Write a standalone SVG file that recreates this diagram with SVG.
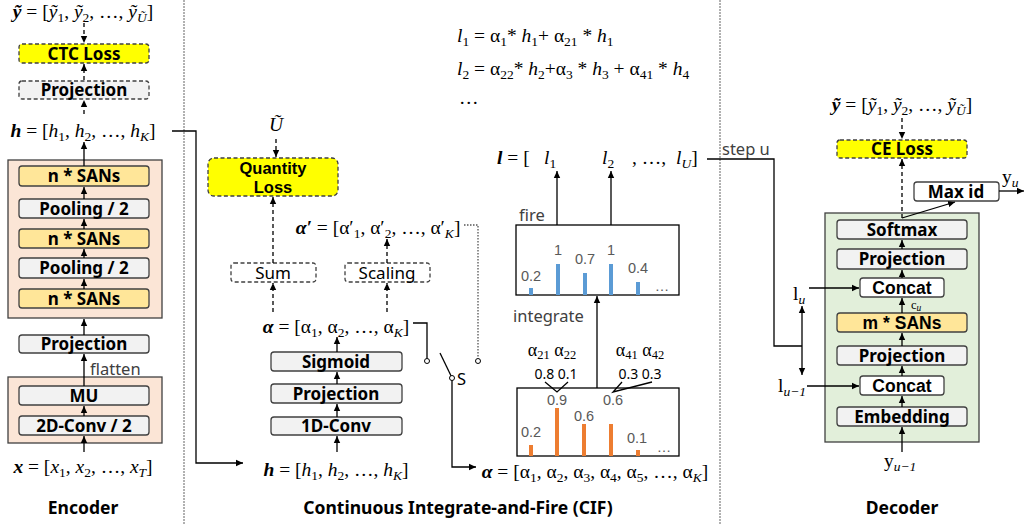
<svg xmlns="http://www.w3.org/2000/svg" width="1025" height="525" viewBox="0 0 1025 525">
<style>
.m{font-family:"Liberation Serif",serif;font-size:19.5px;fill:#000}
.i{font-style:italic}
.b{font-weight:bold;font-style:italic}
.sb{font-size:13.5px}
.lbl{font-family:"Noto Sans","Liberation Sans",sans-serif;font-weight:bold;font-size:17px;fill:#000;text-anchor:middle}
.lbq{font-family:"Liberation Sans",Arial,sans-serif;font-weight:bold;font-size:16.5px;fill:#000;text-anchor:middle}
.lbz{font-family:"Liberation Sans",Arial,sans-serif;font-weight:bold;font-size:17.5px;fill:#000;text-anchor:middle}
.lbr{font-family:"Noto Sans","Liberation Sans",sans-serif;font-size:17px;fill:#000;text-anchor:middle}
.note{font-family:"Noto Sans","Liberation Sans",sans-serif;font-size:16.5px;fill:#404040}
.val{font-family:"Liberation Sans",Arial,sans-serif;font-size:14.5px;fill:#595959;text-anchor:middle}
.title{font-family:"Noto Sans","Liberation Sans",sans-serif;font-weight:bold;font-size:17.5px;fill:#000;text-anchor:middle}
.gray{fill:#f2f2f2;stroke:#404040;stroke-width:1.3}
.white{fill:#fff;stroke:#404040;stroke-width:1.3}
.san{fill:#ffe699;stroke:#404040;stroke-width:1.3}
.loss{fill:#ffff00;stroke:#404040;stroke-width:1.3;stroke-dasharray:4 2.5}
.dbox{fill:#f2f2f2;stroke:#404040;stroke-width:1.3;stroke-dasharray:4 2.5}
.dboxw{fill:#fff;stroke:#404040;stroke-width:1.3;stroke-dasharray:4 2.5}
.cont-e{fill:#fbe5d6;stroke:#404040;stroke-width:1.3}
.cont-d{fill:#e2efda;stroke:#404040;stroke-width:1.3}
.c{fill:none;stroke:#000;stroke-width:1.3}
.cd{fill:none;stroke:#000;stroke-width:1.3;stroke-dasharray:4 3}
.cdot{fill:none;stroke:#555;stroke-width:1.3;stroke-dasharray:1.5 1.5}
.sep{fill:none;stroke:#888;stroke-width:1.3;stroke-dasharray:2 1}
.blue{fill:#5b9bd5}
.orange{fill:#ed7d31}
</style>
<defs>
<marker id="ah" markerWidth="8" markerHeight="8" refX="7" refY="4" orient="auto" markerUnits="userSpaceOnUse">
<path d="M0,0.8 L7,4 L0,7.2 Z" fill="#000"/>
</marker>
<marker id="ahs" markerWidth="8" markerHeight="8" refX="7" refY="4" orient="auto-start-reverse" markerUnits="userSpaceOnUse">
<path d="M0,0.8 L7,4 L0,7.2 Z" fill="#000"/>
</marker>
</defs>

<!-- separators -->
<path class="sep" d="M184 0 V525 M720 0 V525"/>

<!-- Encoder -->
<g id="encoder-containers">
<rect class="cont-e" x="8" y="160" width="154" height="158"/>
<rect class="cont-e" x="8" y="377" width="154" height="66"/>
</g>
<g id="enc-ytilde"><text class="m" x="83" y="18" text-anchor="middle"><tspan class="b">ỹ</tspan> = [<tspan class="i">ỹ</tspan><tspan class="sb" dy="4">1</tspan><tspan dy="-4">, </tspan><tspan class="i">ỹ</tspan><tspan class="sb" dy="4">2</tspan><tspan dy="-4">, …, </tspan><tspan class="i">ỹ</tspan><tspan class="sb i" dy="4">Ũ</tspan><tspan dy="-4">]</tspan></text></g>
<g id="ctc-loss"><rect class="loss" x="19" y="44" width="130" height="19" rx="3"/><text class="lbl" x="84" y="59.5">CTC Loss</text></g>
<g id="enc-proj-top"><rect class="dbox" x="19" y="81" width="130" height="18" rx="3"/><text class="lbl" x="84" y="96">Projection</text></g>
<g id="enc-h"><text class="m" x="83" y="137" text-anchor="middle"><tspan class="b">h</tspan> = [<tspan class="i">h</tspan><tspan class="sb" dy="4">1</tspan><tspan dy="-4">, </tspan><tspan class="i">h</tspan><tspan class="sb" dy="4">2</tspan><tspan dy="-4">, …, </tspan><tspan class="i">h</tspan><tspan class="sb i" dy="4">K</tspan><tspan dy="-4">]</tspan></text></g>
<g id="sans1"><rect class="san" x="19" y="166" width="130" height="20" rx="3"/><text class="lbl" x="84" y="182">n * SANs</text></g>
<g id="pool1"><rect class="gray" x="19" y="199" width="130" height="19" rx="3"/><text class="lbl" x="84" y="214.5">Pooling / 2</text></g>
<g id="sans2"><rect class="san" x="19" y="229" width="130" height="19" rx="3"/><text class="lbl" x="84" y="244.5">n * SANs</text></g>
<g id="pool2"><rect class="gray" x="19" y="258" width="130" height="20" rx="3"/><text class="lbl" x="84" y="274">Pooling / 2</text></g>
<g id="sans3"><rect class="san" x="19" y="289" width="130" height="19" rx="3"/><text class="lbl" x="84" y="304.5">n * SANs</text></g>
<g id="enc-proj"><rect class="gray" x="19" y="335" width="130" height="18" rx="3"/><text class="lbl" x="84" y="350">Projection</text></g>
<g id="mu"><rect class="gray" x="19" y="386" width="130" height="19" rx="3"/><text class="lbl" x="84" y="401.5">MU</text></g>
<g id="conv2d"><rect class="gray" x="19" y="416" width="130" height="19" rx="3"/><text class="lbl" x="84" y="431.5">2D-Conv / 2</text></g>
<g id="enc-x"><text class="m" x="83" y="473" text-anchor="middle"><tspan class="b">x</tspan> = [<tspan class="i">x</tspan><tspan class="sb" dy="4">1</tspan><tspan dy="-4">, </tspan><tspan class="i">x</tspan><tspan class="sb" dy="4">2</tspan><tspan dy="-4">, …, </tspan><tspan class="i">x</tspan><tspan class="sb i" dy="4">T</tspan><tspan dy="-4">]</tspan></text></g>
<g id="enc-title"><text class="title" x="83" y="514">Encoder</text></g>
<text class="note" x="90" y="375">flatten</text>

<!-- CIF left -->
<g id="utilde"><text class="m i" x="276" y="131" text-anchor="middle">Ũ</text></g>
<g id="quantity-loss"><rect class="loss" x="208" y="158" width="130" height="38" rx="6"/><text class="lbq" x="273" y="174">Quantity</text><text class="lbq" x="273" y="192.5">Loss</text></g>
<g id="alpha-prime"><text class="m" x="378" y="234" text-anchor="middle"><tspan class="b">α′</tspan> = [α′<tspan class="sb" dy="4">1</tspan><tspan dy="-4">, α′</tspan><tspan class="sb" dy="4">2</tspan><tspan dy="-4">, …, α′</tspan><tspan class="sb i" dy="4">K</tspan><tspan dy="-4">]</tspan></text></g>
<g id="sum"><rect class="dboxw" x="231" y="263" width="85" height="19" rx="3"/><text class="lbr" x="273" y="278.5">Sum</text></g>
<g id="scaling"><rect class="dboxw" x="345" y="263" width="85" height="19" rx="3"/><text class="lbr" x="387" y="278.5">Scaling</text></g>
<g id="alpha-cif"><text class="m" x="336" y="333" text-anchor="middle"><tspan class="b">α</tspan> = [α<tspan class="sb" dy="4">1</tspan><tspan dy="-4">, α</tspan><tspan class="sb" dy="4">2</tspan><tspan dy="-4">, …, α</tspan><tspan class="sb i" dy="4">K</tspan><tspan dy="-4">]</tspan></text></g>
<g id="sigmoid"><rect class="gray" x="271" y="352" width="131" height="19" rx="3"/><text class="lbl" x="336" y="367.5">Sigmoid</text></g>
<g id="cif-proj"><rect class="gray" x="271" y="384" width="131" height="19" rx="3"/><text class="lbl" x="336" y="399.5">Projection</text></g>
<g id="conv1d"><rect class="gray" x="271" y="417" width="131" height="18" rx="3"/><text class="lbl" x="336" y="432">1D-Conv</text></g>
<g id="cif-h"><text class="m" x="336" y="476" text-anchor="middle"><tspan class="b">h</tspan> = [<tspan class="i">h</tspan><tspan class="sb" dy="4">1</tspan><tspan dy="-4">, </tspan><tspan class="i">h</tspan><tspan class="sb" dy="4">2</tspan><tspan dy="-4">, …, </tspan><tspan class="i">h</tspan><tspan class="sb i" dy="4">K</tspan><tspan dy="-4">]</tspan></text></g>
<g id="switch">
<circle cx="427" cy="361" r="2.5" fill="#fff" stroke="#000" stroke-width="1"/>
<circle cx="452" cy="378" r="2.5" fill="#fff" stroke="#000" stroke-width="1"/>
<circle cx="478" cy="361" r="2.5" fill="#fff" stroke="#000" stroke-width="1"/>
<text class="note" x="457" y="385" style="fill:#000">S</text>
</g>
<g id="cif-title"><text class="title" x="458" y="514">Continuous Integrate-and-Fire (CIF)</text></g>

<!-- CIF right -->
<g id="eq-l1"><text class="m" x="457" y="42"><tspan class="i">l</tspan><tspan class="sb" dy="4">1</tspan><tspan dy="-4"> = α</tspan><tspan class="sb" dy="4">1</tspan><tspan dy="-4">* </tspan><tspan class="i">h</tspan><tspan class="sb" dy="4">1</tspan><tspan dy="-4">+ α</tspan><tspan class="sb" dy="4">21</tspan><tspan dy="-4"> * </tspan><tspan class="i">h</tspan><tspan class="sb" dy="4">1</tspan></text></g>
<g id="eq-l2"><text class="m" x="457" y="75"><tspan class="i">l</tspan><tspan class="sb" dy="4">2</tspan><tspan dy="-4"> = α</tspan><tspan class="sb" dy="4">22</tspan><tspan dy="-4">* </tspan><tspan class="i">h</tspan><tspan class="sb" dy="4">2</tspan><tspan dy="-4">+α</tspan><tspan class="sb" dy="4">3</tspan><tspan dy="-4"> * </tspan><tspan class="i">h</tspan><tspan class="sb" dy="4">3</tspan><tspan dy="-4"> + α</tspan><tspan class="sb" dy="4">41</tspan><tspan dy="-4"> * </tspan><tspan class="i">h</tspan><tspan class="sb" dy="4">4</tspan></text></g>
<g id="eq-dots"><text class="m" x="459" y="104">…</text></g>
<g id="l-vec">
<text class="m" x="497" y="164"><tspan class="b">l</tspan> = [</text>
<text class="m" x="544" y="164"><tspan class="i">l</tspan><tspan class="sb" dy="4">1</tspan></text>
<text class="m" x="602" y="164"><tspan class="i">l</tspan><tspan class="sb" dy="4">2</tspan></text>
<text class="m" x="632" y="164">, …,</text>
<text class="m" x="676" y="164"><tspan class="i">l</tspan><tspan class="sb i" dy="4">U</tspan><tspan dy="-4">]</tspan></text>
</g>
<g id="fire-box">
<rect x="516" y="225" width="163" height="70" fill="#fff" stroke="#000" stroke-width="1.3"/>
<rect class="blue" x="529" y="288" width="4" height="7"/>
<rect class="blue" x="556" y="264" width="4" height="31"/>
<rect class="blue" x="583" y="273" width="4" height="22"/>
<rect class="blue" x="609" y="264" width="4" height="31"/>
<rect class="blue" x="636" y="282" width="4" height="13"/>
<text class="val" x="531" y="281">0.2</text>
<text class="val" x="558" y="255">1</text>
<text class="val" x="585" y="264">0.7</text>
<text class="val" x="611" y="255">1</text>
<text class="val" x="638" y="273">0.4</text>
<text class="val" x="662" y="291">…</text>
</g>
<text class="note" x="519" y="221">fire</text>
<text class="note" x="513" y="322">integrate</text>
<g id="alpha-labels">
<text class="m" x="552" y="356" text-anchor="middle" style="font-size:18px">α<tspan class="sb" dy="3" style="font-size:12.5px">21</tspan><tspan dy="-3"> α</tspan><tspan class="sb" dy="3" style="font-size:12.5px">22</tspan></text>
<text class="m" x="640" y="356" text-anchor="middle" style="font-size:18px">α<tspan class="sb" dy="3" style="font-size:12.5px">41</tspan><tspan dy="-3"> α</tspan><tspan class="sb" dy="3" style="font-size:12.5px">42</tspan></text>
<text class="lbr" x="556" y="379" style="font-size:14px">0.8 0.1</text>
<text class="lbr" x="640" y="379" style="font-size:14px">0.3 0.3</text>
</g>
<g id="integrate-box">
<rect x="517" y="388" width="162" height="68" fill="#fff" stroke="#000" stroke-width="1.3"/>
<rect class="orange" x="529" y="445" width="4" height="11"/>
<rect class="orange" x="555" y="408" width="4" height="48"/>
<rect class="orange" x="582" y="424" width="4" height="32"/>
<rect class="orange" x="609" y="424" width="4" height="32"/>
<rect class="orange" x="636" y="450" width="4" height="6"/>
<text class="val" x="531" y="437">0.2</text>
<text class="val" x="557" y="405">0.9</text>
<text class="val" x="584" y="421">0.6</text>
<text class="val" x="613" y="405">0.6</text>
<text class="val" x="637" y="443">0.1</text>
<text class="val" x="664" y="452">…</text>
</g>
<g id="alpha-bottom"><text class="m" x="595" y="478" text-anchor="middle"><tspan class="b">α</tspan> = [α<tspan class="sb" dy="4">1</tspan><tspan dy="-4">, α</tspan><tspan class="sb" dy="4">2</tspan><tspan dy="-4">, α</tspan><tspan class="sb" dy="4">3</tspan><tspan dy="-4">, α</tspan><tspan class="sb" dy="4">4</tspan><tspan dy="-4">, α</tspan><tspan class="sb" dy="4">5</tspan><tspan dy="-4">, …, α</tspan><tspan class="sb i" dy="4">K</tspan><tspan dy="-4">]</tspan></text></g>
<text class="note" x="722" y="155">step u</text>

<!-- Decoder -->
<g id="dec-container"><rect class="cont-d" x="825" y="213" width="154" height="229"/></g>
<g id="dec-ytilde"><text class="m" x="902" y="111" text-anchor="middle"><tspan class="b">ỹ</tspan> = [<tspan class="i">ỹ</tspan><tspan class="sb" dy="4">1</tspan><tspan dy="-4">, </tspan><tspan class="i">ỹ</tspan><tspan class="sb" dy="4">2</tspan><tspan dy="-4">, …, </tspan><tspan class="i">ỹ</tspan><tspan class="sb i" dy="4">Ũ</tspan><tspan dy="-4">]</tspan></text></g>
<g id="ce-loss"><rect class="loss" x="837" y="140" width="130" height="18" rx="3"/><text class="lbl" x="902" y="155">CE Loss</text></g>
<g id="maxid"><rect class="white" x="914" y="182" width="85" height="19" rx="3"/><text class="lbl" x="956" y="197.5">Max id</text></g>
<g id="yu"><text class="m" x="1002" y="183">y<tspan class="sb i" dy="4">u</tspan></text></g>
<g id="softmax"><rect class="gray" x="837" y="220" width="130" height="19" rx="3"/><text class="lbl" x="902" y="235.5">Softmax</text></g>
<g id="dec-proj1"><rect class="gray" x="837" y="249" width="130" height="20" rx="3"/><text class="lbl" x="902" y="265">Projection</text></g>
<g id="concat1"><rect class="white" x="860" y="278" width="84" height="19" rx="3"/><text class="lbz" x="902" y="293.5">Concat</text></g>
<g id="cu"><text class="m" x="911" y="308.5" style="font-size:12.5px">c<tspan class="i" dy="2" style="font-size:9.5px">u</tspan></text></g>
<g id="msans"><rect class="san" x="837" y="313" width="130" height="19" rx="3"/><text class="lbz" x="902" y="329">m * SANs</text></g>
<g id="dec-proj2"><rect class="gray" x="837" y="346" width="130" height="19" rx="3"/><text class="lbl" x="902" y="361.5">Projection</text></g>
<g id="concat2"><rect class="white" x="860" y="376" width="84" height="19" rx="3"/><text class="lbz" x="902" y="391.5">Concat</text></g>
<g id="embedding"><rect class="gray" x="837" y="407" width="130" height="19" rx="3"/><text class="lbl" x="902" y="422.5">Embedding</text></g>
<g id="lu"><text class="m" x="793" y="300">l<tspan class="sb i" dy="4">u</tspan></text></g>
<g id="lu1"><text class="m" x="778" y="392">l<tspan class="sb i" dy="4">u−1</tspan></text></g>
<g id="yu1"><text class="m" x="884" y="467">y<tspan class="sb i" dy="4">u−1</tspan></text></g>
<g id="dec-title"><text class="title" x="902" y="514">Decoder</text></g>

<!-- connectors -->
<g id="connectors">
<path class="cd" d="M84 23 V43" marker-end="url(#ah)"/>
<path class="cd" d="M84 80 V64" marker-end="url(#ah)"/>
<path class="cd" d="M84 114 V100" marker-end="url(#ah)"/>
<path class="c" d="M84 166 V142" marker-end="url(#ah)"/>
<path class="c" d="M84 199 V187" marker-end="url(#ah)"/>
<path class="c" d="M84 258 V249" marker-end="url(#ah)"/>
<path class="c" d="M84 229 V219" marker-end="url(#ah)"/>
<path class="c" d="M84 289 V279" marker-end="url(#ah)"/>
<path class="c" d="M84 335 V319" marker-end="url(#ah)"/>
<path class="c" d="M84 386 V354" marker-end="url(#ah)"/>
<path class="c" d="M84 416 V406" marker-end="url(#ah)"/>
<path class="c" d="M84 452 V436" marker-end="url(#ah)"/>
<path class="c" d="M172 131 H196 V463 H243" marker-end="url(#ah)"/>
<path class="cd" d="M276 139 V157" marker-end="url(#ah)"/>
<path class="cd" d="M273 263 V197" marker-end="url(#ah)"/>
<path class="cd" d="M387 263 V239" marker-end="url(#ah)"/>
<path class="cd" d="M273 312 V283" marker-end="url(#ah)"/>
<path class="cd" d="M387 312 V283" marker-end="url(#ah)"/>
<path class="cdot" d="M464 225 H478 V358"/>
<path class="c" d="M337 352 V337" marker-end="url(#ah)"/>
<path class="c" d="M337 384 V372" marker-end="url(#ah)"/>
<path class="c" d="M337 417 V404" marker-end="url(#ah)"/>
<path class="c" d="M337 452 V436" marker-end="url(#ah)"/>
<path class="c" d="M413 323 H427 V358.5"/>
<path class="c" d="M440 353 L451 375.8"/>
<path class="c" d="M452 380.5 V467 H476" marker-end="url(#ah)"/>
<path class="c" d="M557 225 V171" marker-end="url(#ah)"/>
<path class="c" d="M611 225 V171" marker-end="url(#ah)"/>
<path class="c" d="M597 388 V296" marker-end="url(#ah)"/>
<path class="c" d="M545 382 L557 392 L568 382"/>
<path class="c" d="M622 382 L613 392 L652 382"/>
<path class="c" d="M707 159 H774 V346 H802"/>
<path class="c" d="M802 306 V375" marker-start="url(#ahs)" marker-end="url(#ahs)"/>
<path class="c" d="M809 288 H859" marker-end="url(#ah)"/>
<path class="c" d="M807 386 H859" marker-end="url(#ah)"/>
<path class="cd" d="M902 118 V139" marker-end="url(#ah)"/>
<path class="cd" d="M902 218 V159" marker-end="url(#ah)"/>
<path class="c" d="M902 218 L955 202" marker-end="url(#ah)"/>
<path class="c" d="M999 191 H1024" marker-end="url(#ah)"/>
<path class="c" d="M902 249 V240" marker-end="url(#ah)"/>
<path class="c" d="M902 278 V270" marker-end="url(#ah)"/>
<path class="c" d="M902 313 V298" marker-end="url(#ah)"/>
<path class="c" d="M902 346 V333" marker-end="url(#ah)"/>
<path class="c" d="M902 376 V366" marker-end="url(#ah)"/>
<path class="c" d="M902 407 V396" marker-end="url(#ah)"/>
<path class="c" d="M902 452 V427" marker-end="url(#ah)"/>
</g>
</svg>
